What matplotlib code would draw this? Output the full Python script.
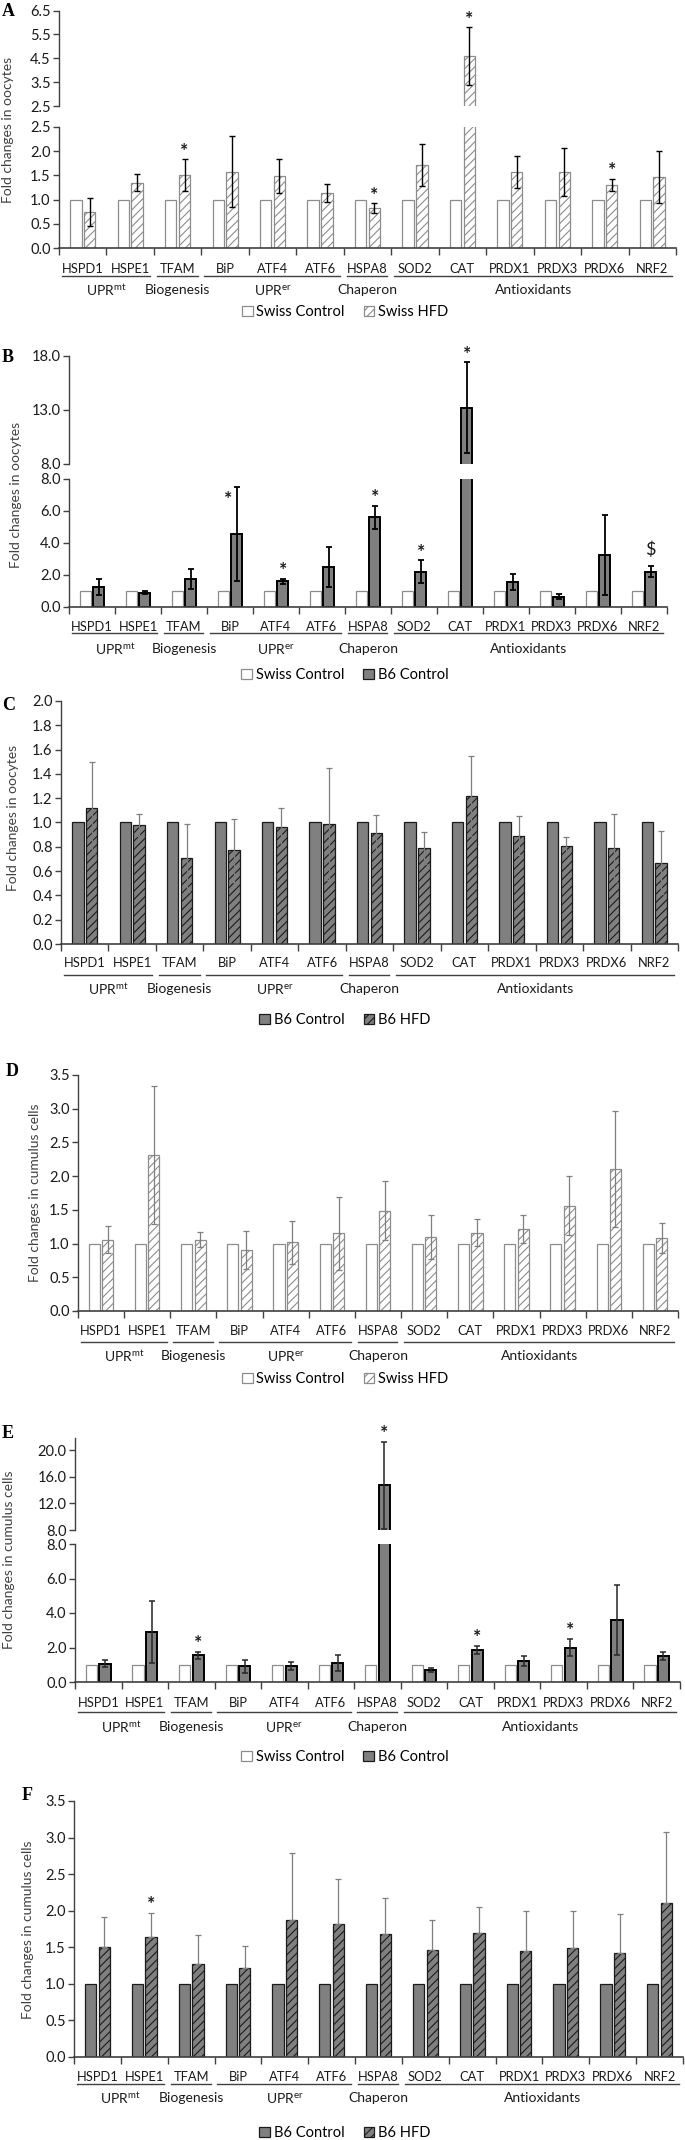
import numpy as np
import matplotlib
matplotlib.use('Agg')
import matplotlib.pyplot as plt
import matplotlib.transforms as mtransforms
from matplotlib.patches import Patch

plt.rcParams['font.family'] = ['Lato', 'DejaVu Sans']
plt.rcParams['mathtext.fontset'] = 'custom'
plt.rcParams['mathtext.rm'] = 'Lato'
plt.rcParams['mathtext.it'] = 'Lato:italic'
plt.rcParams['mathtext.bf'] = 'Lato:bold'
plt.rcParams['hatch.linewidth'] = 0.8

# ---------------- data ----------------
genes = ['HSPD1', 'HSPE1', 'TFAM', 'BiP', 'ATF4', 'ATF6', 'HSPA8',
         'SOD2', 'CAT', 'PRDX1', 'PRDX3', 'PRDX6', 'NRF2']
group_names = [r'UPR$^{\mathrm{mt}}$', 'Biogenesis', r'UPR$^{\mathrm{er}}$', 'Chaperon', 'Antioxidants']
group_start = [0, 2, 3, 6, 7]
group_end = [1, 2, 5, 6, 12]

control = [1.0, 1.0, 1.0, 1.0, 1.0, 1.0, 1.0, 1.0, 1.0, 1.0, 1.0, 1.0, 1.0]

# A: oocytes, Swiss HFD vs Swiss control
a_hfd = [0.75, 1.35, 1.50, 1.58, 1.49, 1.14, 0.82, 1.72, 4.60, 1.58, 1.57, 1.30, 1.47]
a_err = [0.29, 0.17, 0.33, 0.73, 0.35, 0.18, 0.10, 0.43, 1.20, 0.33, 0.50, 0.12, 0.54]
a_stars = ['', '', '*', '', '', '', '*', '', '*', '', '', '*', '']

# B: oocytes, B6 control vs Swiss control
b_b6 = [1.25, 0.90, 1.75, 4.55, 1.60, 2.50, 5.60, 2.20, 13.20, 1.55, 0.65, 3.25, 2.20]
b_err = [0.52, 0.10, 0.60, 2.95, 0.15, 1.25, 0.70, 0.72, 4.20, 0.50, 0.15, 2.50, 0.35]
b_stars = ['', '', '', '*', '*', '', '*', '*', '*', '', '', '', '$']

# C: oocytes, B6 HFD vs B6 control
c_hfd = [1.12, 0.98, 0.71, 0.77, 0.96, 0.99, 0.91, 0.79, 1.22, 0.89, 0.81, 0.79, 0.67]
c_err = [0.38, 0.09, 0.28, 0.26, 0.16, 0.46, 0.15, 0.13, 0.33, 0.16, 0.07, 0.28, 0.26]

# D: cumulus cells, Swiss HFD vs Swiss control
d_hfd = [1.06, 2.31, 1.06, 0.91, 1.02, 1.15, 1.49, 1.10, 1.16, 1.22, 1.56, 2.11, 1.08]
d_err = [0.20, 1.02, 0.11, 0.28, 0.32, 0.54, 0.44, 0.33, 0.20, 0.21, 0.44, 0.86, 0.22]

# E: cumulus cells, B6 control vs Swiss control
e_b6 = [1.05, 2.90, 1.55, 0.90, 0.95, 1.10, 14.70, 0.70, 1.85, 1.20, 2.00, 3.60, 1.50]
e_err = [0.20, 1.80, 0.20, 0.40, 0.23, 0.45, 6.50, 0.10, 0.25, 0.30, 0.50, 2.05, 0.25]
e_stars = ['', '', '*', '', '', '', '*', '', '*', '', '*', '', '']

# F: cumulus cells, B6 HFD vs B6 control
f_hfd = [1.51, 1.64, 1.27, 1.22, 1.87, 1.82, 1.68, 1.46, 1.69, 1.45, 1.49, 1.42, 2.10]
f_err = [0.41, 0.33, 0.40, 0.30, 0.92, 0.62, 0.50, 0.41, 0.36, 0.55, 0.50, 0.54, 0.97]
f_stars = ['', '*', '', '', '', '', '', '', '', '', '', '', '']

# ---------------- styles ----------------
W, H = 685, 2140
fig = plt.figure(figsize=(W / 100, H / 100), dpi=100)
AXC = '#404040'
TXT = '#1a1a1a'
FS = 10

S_WHITE = dict(color='white', edgecolor='#8c8c8c', linewidth=0.9)
S_SWISS_HFD = dict(color='white', edgecolor='#8c8c8c', hatch='////', linewidth=0.9)
S_B6_BOLD = dict(color='#7f7f7f', edgecolor='black', linewidth=1.4)
S_B6 = dict(color='#808080', edgecolor='#1a1a1a', linewidth=0.9)
S_B6_HFD = dict(color='#808080', edgecolor='#1a1a1a', hatch='////', linewidth=0.9)

E_BLACK = dict(ecolor='black', elinewidth=1.0, capsize=2.5, capthick=1.0)
E_BLACK_B = dict(ecolor='black', elinewidth=1.3, capsize=2.5, capthick=1.3)
E_GREY = dict(ecolor='#7f7f7f', elinewidth=0.9, capsize=2.0, capthick=0.9)
E_DARK = dict(ecolor='#262626', elinewidth=1.1, capsize=2.5, capthick=1.1)

x = np.arange(len(genes))
OFF, BW = 0.145, 0.24


def add_ax(x0, x1, yt, yb):
    return fig.add_axes([x0 / W, 1 - yb / H, (x1 - x0) / W, (yb - yt) / H])


def base_style(ax, ylim, yticks, bottom):
    ax.set_xlim(-0.5, len(genes) - 0.5)
    ax.set_ylim(*ylim)
    ax.set_yticks(yticks)
    ax.set_yticklabels([f'{t:.1f}' for t in yticks])
    ax.patch.set_alpha(0)
    for s in ['top', 'right']:
        ax.spines[s].set_visible(False)
    ax.spines['left'].set_color(AXC)
    ax.spines['left'].set_linewidth(1.0)
    ax.tick_params(axis='y', direction='out', length=4, width=1, color=AXC,
                   labelsize=FS + 0.5, pad=2, labelcolor=TXT)
    ax.set_xticks([])
    if bottom:
        ax.spines['bottom'].set_color(AXC)
        ax.spines['bottom'].set_linewidth(1.2)
        ax.set_xticks(np.arange(-0.5, len(genes)), minor=True)
        ax.tick_params(axis='x', which='minor', direction='out', length=5,
                       width=1, color=AXC)
    else:
        ax.spines['bottom'].set_visible(False)


def draw(ax, treat, err, cstyle, tstyle, estyle, lower=True):
    ax.bar(x - OFF, control, BW, **cstyle)
    ax.bar(x + OFF, treat, BW, **tstyle)
    lo = np.array(err) if lower else np.zeros(len(err))
    ax.errorbar(x + OFF, treat, yerr=[lo, np.array(err)], fmt='none', **estyle)


def xlabels(ax, h_px, lab=20, ul=28, grp=43):
    tr = mtransforms.blended_transform_factory(ax.transData, ax.transAxes)
    for i, g in enumerate(genes):
        ax.text(i, -lab / h_px, g, transform=tr, ha='center', va='center',
                fontsize=9.3, color=TXT, clip_on=False)
    for name, s, e in zip(group_names, group_start, group_end):
        ax.plot([s - 0.5 + 0.06, e + 0.5 - 0.08], [-ul / h_px] * 2, transform=tr,
                color=AXC, lw=1.0, clip_on=False)
        ax.text((s + e) / 2, -grp / h_px, name, transform=tr, ha='center', va='center',
                fontsize=FS, color=TXT, clip_on=False)


def stars(ax_lo, ax_hi, vals, errs, syms, special=None):
    special = special or {}
    for i, sym in enumerate(syms):
        if not sym:
            continue
        top = vals[i] + errs[i]
        ax = ax_hi if (ax_hi is not None and top > ax_lo.get_ylim()[1]) else ax_lo
        dx, dy = special.get(i, (0, 2))
        if sym == '$':
            ax.annotate(r'\$', xy=(i + OFF, top), xytext=(dx, 8), textcoords='offset points',
                        ha='center', va='baseline', fontsize=13, color=TXT,
                        annotation_clip=False)
        else:
            ax.annotate('*', xy=(i + OFF, top), xytext=(dx, dy), textcoords='offset points',
                        ha='center', va='baseline', fontsize=14, fontweight='bold',
                        color=TXT, annotation_clip=False)


def legend(y_px, handles, labels):
    fig.legend(handles, labels, loc='center', bbox_to_anchor=(345 / W, 1 - y_px / H),
               ncol=2, frameon=False, fontsize=FS + 0.5, handlelength=0.75,
               handleheight=0.75, handletextpad=0.25, columnspacing=1.3)


def ylabel(xp, yp, text):
    fig.text(xp / W, 1 - yp / H, text, rotation=90, ha='center', va='center',
             fontsize=FS, color=AXC)


def letter(xp, yp, t):
    fig.text(xp / W, 1 - yp / H, t, ha='left', va='center', fontsize=13,
             fontweight='bold', family='Liberation Serif')


h_white = Patch(facecolor='white', edgecolor='#8c8c8c', linewidth=0.9)
h_swiss_hfd = Patch(facecolor='white', edgecolor='#8c8c8c', hatch='////', linewidth=0.9)
h_b6 = Patch(facecolor='#808080', edgecolor='#1a1a1a', linewidth=0.9)
h_b6_hfd = Patch(facecolor='#808080', edgecolor='#1a1a1a', hatch='////', linewidth=0.9)

# ---------------- Panel A ----------------
aU = add_ax(59, 676, 10.6, 106)
aL = add_ax(59, 676, 127, 248)
for ax in (aU, aL):
    draw(ax, a_hfd, a_err, S_WHITE, S_SWISS_HFD, E_BLACK)
base_style(aU, (2.5, 6.5), [2.5, 3.5, 4.5, 5.5, 6.5], False)
base_style(aL, (0, 2.5), [0, 0.5, 1.0, 1.5, 2.0, 2.5], True)
xlabels(aL, 248 - 127, 21, 28, 42)
stars(aL, aU, a_hfd, a_err, a_stars)
legend(312, [h_white, h_swiss_hfd], ['Swiss Control', 'Swiss HFD'])
ylabel(8, 130, 'Fold changes in oocytes')
letter(2, 12, 'A')

# ---------------- Panel B ----------------
bU = add_ax(69, 667, 356, 464)
bL = add_ax(69, 667, 479, 607)
for ax in (bU, bL):
    draw(ax, b_b6, b_err, S_WHITE, S_B6_BOLD, E_BLACK_B)
base_style(bU, (8, 18), [8, 13, 18], False)
base_style(bL, (0, 8), [0, 2, 4, 6, 8], True)
xlabels(bL, 607 - 479, 20, 26, 42)
stars(bL, bU, b_b6, b_err, b_stars, special={3: (-6, -13)})
legend(675, [h_white, h_b6], ['Swiss Control', 'B6 Control'])
ylabel(16, 495, 'Fold changes in oocytes')
letter(2, 358, 'B')

# ---------------- Panel C ----------------
cA = add_ax(61, 678, 701, 944)
draw(cA, c_hfd, c_err, S_B6, S_B6_HFD, E_GREY)
base_style(cA, (0, 2.0), [0, 0.2, 0.4, 0.6, 0.8, 1.0, 1.2, 1.4, 1.6, 1.8, 2.0], True)
xlabels(cA, 944 - 701, 19, 31, 45)
legend(1020, [h_b6, h_b6_hfd], ['B6 Control', 'B6 HFD'])
ylabel(13, 818, 'Fold changes in oocytes')
letter(2, 706, 'C')

# ---------------- Panel D ----------------
dA = add_ax(78, 678, 1075, 1311)
draw(dA, d_hfd, d_err, S_WHITE, S_SWISS_HFD, E_GREY)
base_style(dA, (0, 3.5), [0, 0.5, 1.0, 1.5, 2.0, 2.5, 3.0, 3.5], True)
xlabels(dA, 1311 - 1075, 20, 31, 45)
legend(1379, [h_white, h_swiss_hfd], ['Swiss Control', 'Swiss HFD'])
ylabel(35, 1193, 'Fold changes in cumulus cells')
letter(6, 1072, 'D')

# ---------------- Panel E ----------------
eU = add_ax(75, 680, 1438, 1530)
eL = add_ax(75, 680, 1544, 1682)
for ax in (eU, eL):
    draw(ax, e_b6, e_err, S_WHITE, S_B6_BOLD, E_DARK)
base_style(eU, (8, 21.8), [8, 12, 16, 20], False)
base_style(eL, (0, 8), [0, 2, 4, 6, 8], True)
xlabels(eL, 1682 - 1544, 21, 30, 45)
stars(eL, eU, e_b6, e_err, e_stars)
legend(1757, [h_white, h_b6], ['Swiss Control', 'B6 Control'])
ylabel(9, 1560, 'Fold changes in cumulus cells')
letter(2, 1433, 'E')

# ---------------- Panel F ----------------
fA = add_ax(74, 683, 1801, 2057)
draw(fA, f_hfd, f_err, S_B6, S_B6_HFD, E_GREY, lower=False)
base_style(fA, (0, 3.5), [0, 0.5, 1.0, 1.5, 2.0, 2.5, 3.0, 3.5], True)
xlabels(fA, 2057 - 1801, 20, 27, 41)
stars(fA, None, f_hfd, f_err, f_stars)
legend(2133, [h_b6, h_b6_hfd], ['B6 Control', 'B6 HFD'])
ylabel(28, 1930, 'Fold changes in cumulus cells')
letter(22, 1795, 'F')

fig.savefig('out.png', dpi=100)
